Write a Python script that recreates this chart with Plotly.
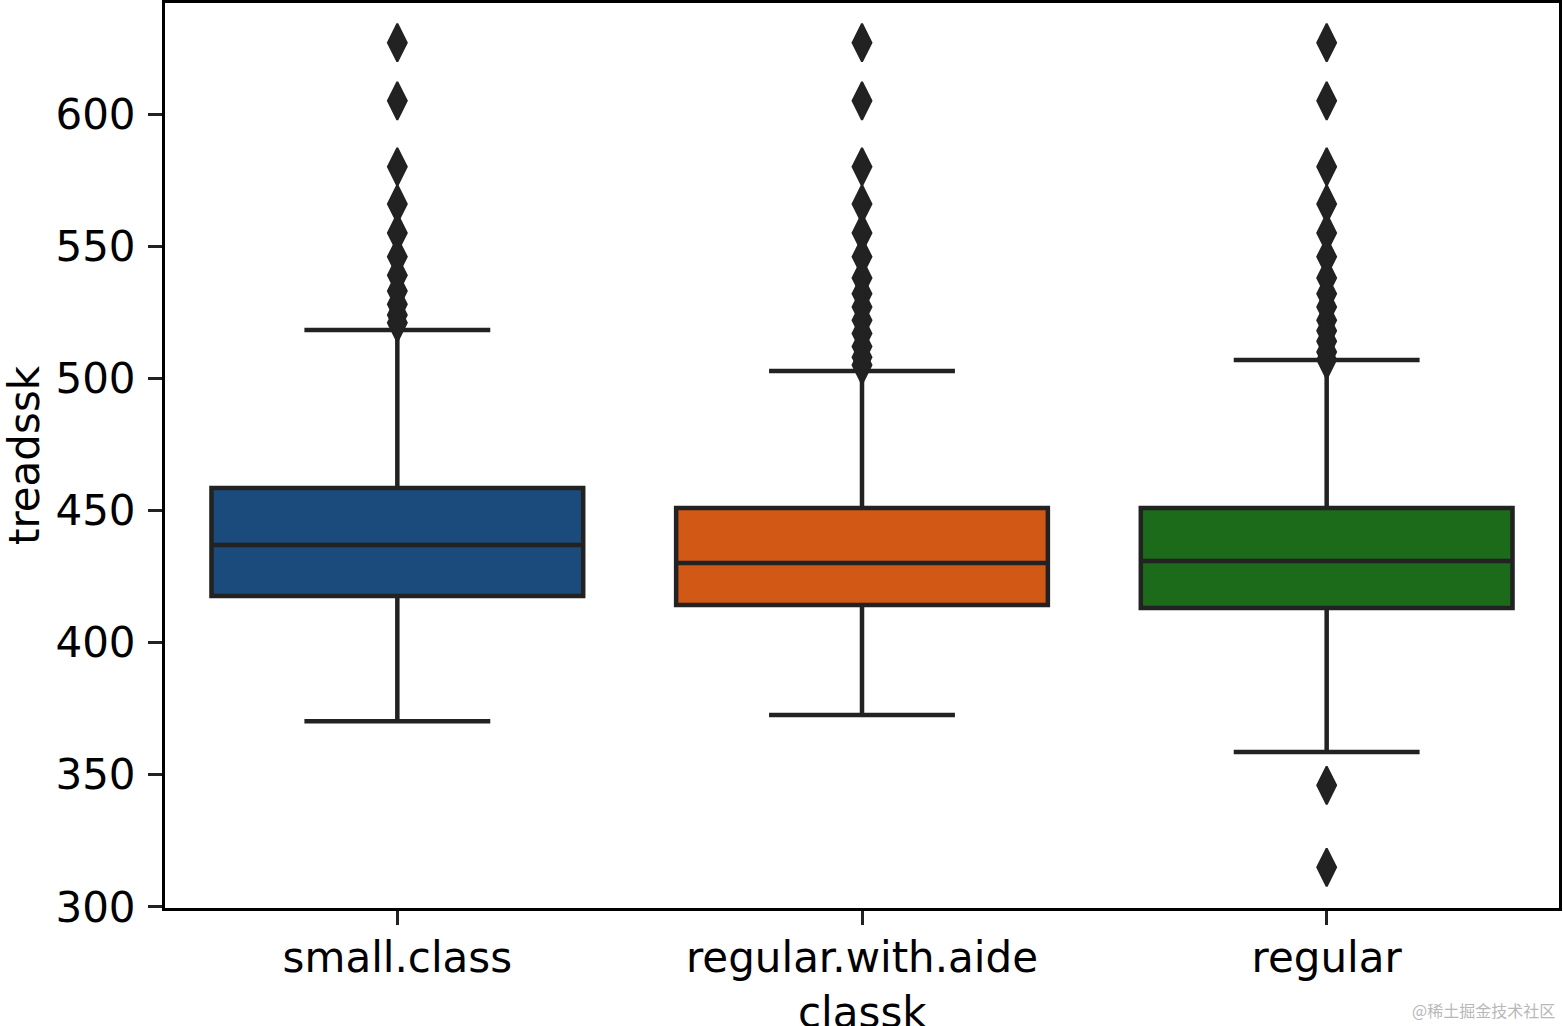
import plotly.graph_objects as go

categories = ["small.class", "regular.with.aide", "regular"]
colors = ["#1b4b7d", "#d15815", "#1b6b1b"]

q1 = [417.6, 414.2, 413.1]
median = [436.9, 430.1, 430.9]
q3 = [458.5, 450.9, 450.9]
lowerfence = [370.3, 372.6, 358.6]
upperfence = [518.3, 502.8, 506.9]

outliers_small = [627, 605, 580, 566, 555, 546, 539, 533, 528, 524, 521]
outliers_aide = [627, 605, 580, 566, 555, 546, 538, 532, 527, 522, 517, 512, 508, 505]
outliers_regular = [627, 605, 580, 566, 555, 546, 538, 532, 527, 522, 518, 514, 510, 507, 346, 315]
outliers = [outliers_small, outliers_aide, outliers_regular]

yticks = [300, 350, 400, 450, 500, 550, 600]

EDGE = "#222222"
FONT = "DejaVu Sans"
FS = 42

fig = go.Figure()
for i, cat in enumerate(categories):
    fig.add_trace(go.Box(
        x=[cat], q1=[q1[i]], median=[median[i]], q3=[q3[i]],
        lowerfence=[lowerfence[i]], upperfence=[upperfence[i]],
        orientation="v", width=0.8, whiskerwidth=0.5,
        fillcolor=colors[i], line=dict(color=EDGE, width=4.5),
        boxpoints=False, showlegend=False, hoverinfo="y",
    ))
    fig.add_trace(go.Scatter(
        x=[cat] * len(outliers[i]), y=outliers[i], mode="markers",
        marker=dict(symbol="diamond-tall", size=27, color=EDGE,
                    line=dict(width=2, color=EDGE)),
        showlegend=False,
    ))

fig.update_layout(
    width=1563, height=1026,
    margin=dict(l=165, r=4, t=3, b=118),
    paper_bgcolor="white", plot_bgcolor="white",
    boxmode="overlay",
    font=dict(family=FONT, size=FS, color="black"),
    xaxis=dict(
        type="category", categoryorder="array", categoryarray=categories,
        range=[-0.5, 2.5], showline=True, linecolor="black", linewidth=3,
        mirror=True, ticks="outside", ticklen=14, tickwidth=3, tickcolor="#222",
        showgrid=False, zeroline=False, ticklabelstandoff=-3, automargin=False,
        tickfont=dict(family=FONT, size=FS, color="black"),
    ),
    yaxis=dict(
        range=[299.6, 642], tickvals=yticks, ticktext=[str(v) for v in yticks],
        showline=True, linecolor="black", linewidth=3, mirror=True,
        ticks="outside", ticklen=14, tickwidth=3, tickcolor="#222",
        showgrid=False, zeroline=False, ticklabelstandoff=4, automargin=False,
        tickfont=dict(family=FONT, size=FS, color="black"),
        title=dict(text="treadssk", font=dict(family=FONT, size=FS, color="black"), standoff=8),
    ),
    annotations=[
        dict(
            text="classk", x=0.5, y=0, xref="paper", yref="paper",
            xanchor="center", yanchor="middle", yshift=-104, showarrow=False,
            font=dict(family=FONT, size=FS, color="black"),
        ),
        dict(
            text="@稀土掘金技术社区", x=1, y=0, xref="paper", yref="paper",
            xanchor="right", yanchor="middle", xshift=-2, yshift=-102, showarrow=False,
            font=dict(family="Noto Sans CJK SC", size=16, color="#b8b8b8"),
        ),
    ],
)

fig.write_html("out.html", config={"displayModeBar": False},
               post_script="document.body.style.margin='0';")
